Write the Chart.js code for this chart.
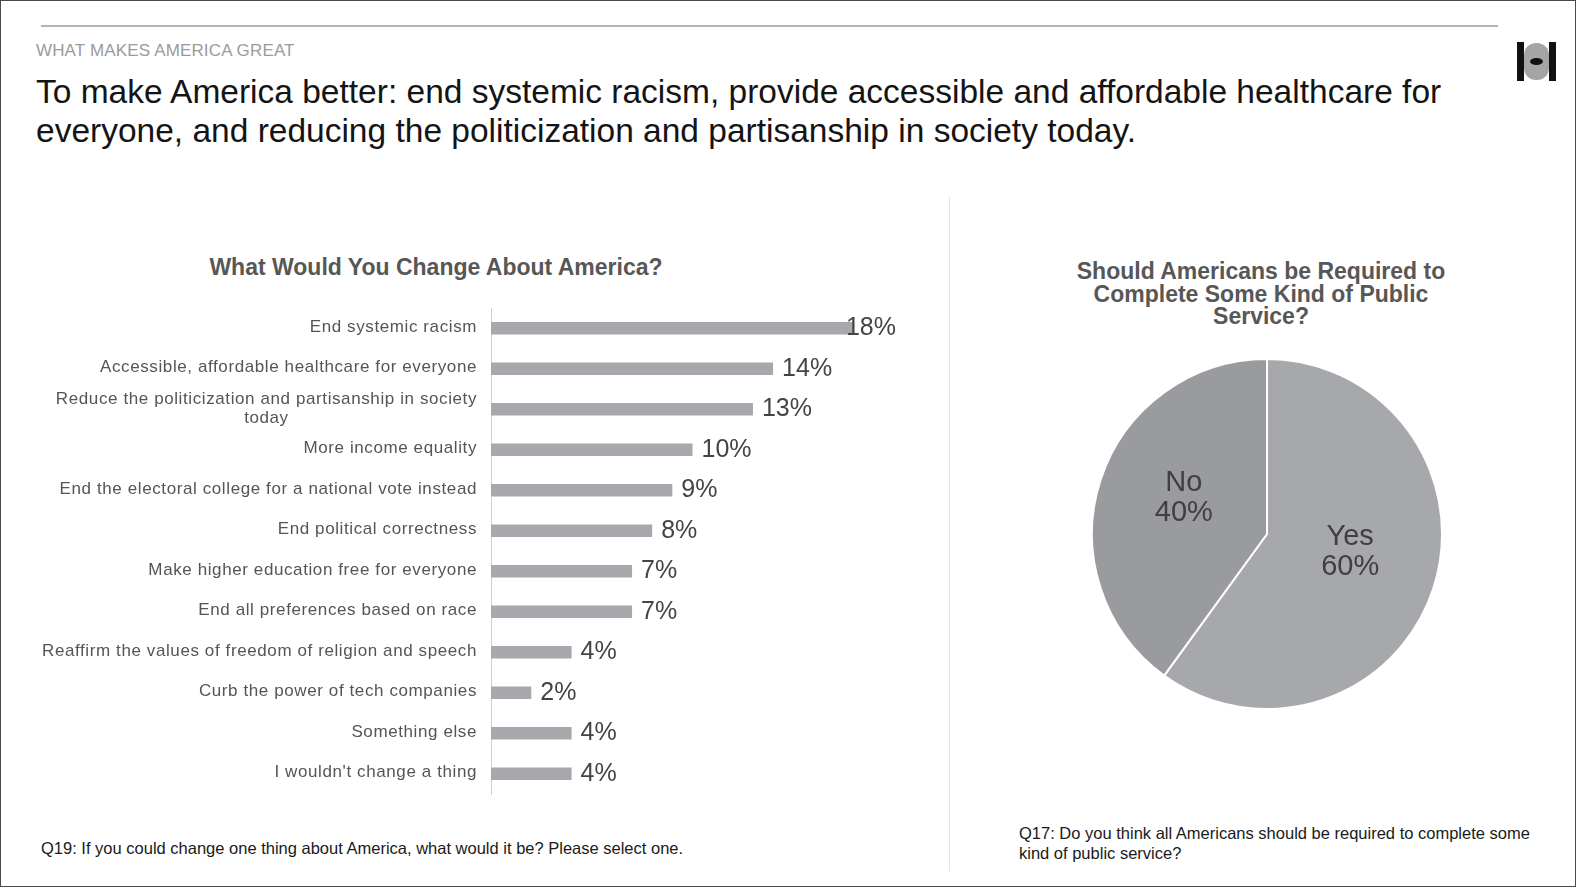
<!DOCTYPE html>
<html>
<head>
<meta charset="utf-8">
<script src="https://cdn.jsdelivr.net/npm/chart.js@4.4.0/dist/chart.umd.min.js"></script>
<style>
  html, body { margin: 0; padding: 0; }
  body {
    width: 1576px; height: 887px; position: relative; overflow: hidden;
    background: #fff; font-family: "Liberation Sans", Arial, sans-serif;
    box-sizing: border-box; border: 1px solid #4a4a4a;
  }
  .abs { position: absolute; }
  #topline { left: 40px; top: 24px; width: 1457px; height: 0; border-top: 2px solid #b5b5b5; }
  #kicker { left: 35px; top: 40px; font-size: 17px; letter-spacing: 0.15px; color: #9b9b9b; }
  #headline { left: 35px; top: 71px; font-size: 33.5px; line-height: 39px; color: #141414; width: 1500px; }
  #divider { left: 948px; top: 196px; width: 0; height: 674px; border-left: 1px solid #e4e4e4; }
  #barTitle { left: 110px; width: 650px; top: 253px; text-align: center; font-weight: bold; font-size: 23px; color: #575757; }
  #pieTitle { left: 1040px; width: 440px; top: 259px; text-align: center; font-weight: bold; font-size: 23px; line-height: 22.5px; color: #575757; }
  #note1 { left: 40px; top: 838px; font-size: 16.5px; color: #1a1a1a; }
  #note2 { left: 1018px; top: 822px; width: 540px; font-size: 16.5px; line-height: 20px; color: #1a1a1a; }
  #logo { left: 1516px; top: 41px; width: 39px; height: 39px; }
  #logo .bar { position: absolute; top: 0; width: 7px; height: 39px; background: #111; }
  #logo .mid { position: absolute; left: 7px; top: 1px; width: 25px; height: 37px; background: #a5a5a5; border-radius: 12px; }
  #logo .eye { position: absolute; left: 13px; top: 16px; width: 13px; height: 7px; background: #111; border-radius: 50%; }
  canvas { position: absolute; }
</style>
</head>
<body>
<div id="topline" class="abs"></div>
<div id="kicker" class="abs">WHAT MAKES AMERICA GREAT</div>
<div id="headline" class="abs">To make America better: end systemic racism, provide accessible and affordable healthcare for<br>everyone, and reducing the politicization and partisanship in society today.</div>
<div id="logo" class="abs"><div class="mid"></div><div class="bar" style="left:0"></div><div class="bar" style="left:32px"></div><div class="eye"></div></div>
<div id="divider" class="abs"></div>
<div id="barTitle" class="abs">What Would You Change About America?</div>
<div id="pieTitle" class="abs">Should Americans be Required to<br>Complete Some Kind of Public<br>Service?</div>
<div id="note1" class="abs">Q19: If you could change one thing about America, what would it be? Please select one.</div>
<div id="note2" class="abs">Q17: Do you think all Americans should be required to complete some kind of public service?</div>

<canvas id="changeChart" width="940" height="500" style="left:0;top:300px;"></canvas>
<canvas id="serviceChart" width="380" height="380" style="left:1076px;top:343px;"></canvas>

<script>
const changeLabels = [
  ['End systemic racism'],
  ['Accessible, affordable healthcare for everyone'],
  ['Reduce the politicization and partisanship in society', 'today'],
  ['More income equality'],
  ['End the electoral college for a national vote instead'],
  ['End political correctness'],
  ['Make higher education free for everyone'],
  ['End all preferences based on race'],
  ['Reaffirm the values of freedom of religion and speech'],
  ['Curb the power of tech companies'],
  ['Something else'],
  ["I wouldn't change a thing"]
];
const changeValues = [18, 14, 13, 10, 9, 8, 7, 7, 4, 2, 4, 4];

const serviceLabels = ['Yes', 'No'];
const serviceValues = [60, 40];

// category labels, drawn so the second line sits centred under the first
const categoryText = {
  id: 'categoryText',
  afterDraw(chart) {
    const ctx = chart.ctx;
    const y = chart.scales.y;
    const right = chart.chartArea.left - 14;
    ctx.save();
    ctx.font = '17px "Liberation Sans", Arial, sans-serif';
    ctx.letterSpacing = '0.6px';
    ctx.fillStyle = '#555';
    ctx.textBaseline = 'middle';
    ctx.textAlign = 'center';
    changeLabels.forEach((lines, i) => {
      const cy = y.getPixelForValue(i);
      const w = Math.max(...lines.map(l => ctx.measureText(l).width));
      const top = cy - (lines.length - 1) * 19 / 2 - (lines.length > 1 ? 0 : 1);
      lines.forEach((l, k) => ctx.fillText(l, right - w / 2, top + k * 19));
    });
    ctx.restore();
  }
};

const valueText = {
  id: 'valueText',
  afterDatasetsDraw(chart) {
    const ctx = chart.ctx;
    const meta = chart.getDatasetMeta(0);
    ctx.save();
    ctx.font = '25px "Liberation Sans", Arial, sans-serif';
    ctx.fillStyle = '#444';
    ctx.textBaseline = 'middle';
    meta.data.forEach((bar, i) => {
      const txt = changeValues[i] + '%';
      const w = ctx.measureText(txt).width;
      const x = Math.min(bar.x + 9, chart.chartArea.right + 2 - w);
      ctx.fillText(txt, x, bar.y);
    });
    ctx.restore();
  }
};

new Chart(document.getElementById('changeChart'), {
  type: 'bar',
  data: {
    labels: changeLabels.map(l => l.join(' ')),
    datasets: [{
      data: changeValues,
      backgroundColor: '#a7a8ab',
      barPercentage: 0.31,
      categoryPercentage: 1
    }]
  },
  options: {
    indexAxis: 'y',
    responsive: false,
    animation: false,
    layout: { padding: { top: 7, bottom: 7, right: 47, left: 0 } },
    plugins: { legend: { display: false }, tooltip: { enabled: false } },
    scales: {
      x: { display: false, min: 0, max: 20 },
      y: {
        grid: { display: false },
        ticks: { display: false },
        border: { color: '#d0d0d0', width: 1 },
        afterFit(scale) { scale.width = 490; }
      }
    }
  },
  plugins: [categoryText, valueText]
});

const sliceText = {
  id: 'sliceText',
  afterDatasetsDraw(chart) {
    const ctx = chart.ctx;
    const meta = chart.getDatasetMeta(0);
    ctx.save();
    ctx.font = '29px "Liberation Sans", Arial, sans-serif';
    ctx.fillStyle = '#404040';
    ctx.textAlign = 'center';
    ctx.textBaseline = 'middle';
    meta.data.forEach((arc, i) => {
      const p = arc.tooltipPosition();
      ctx.fillText(serviceLabels[i], p.x, p.y - 24);
      ctx.fillText(serviceValues[i] + '%', p.x, p.y + 6);
    });
    ctx.restore();
  }
};

new Chart(document.getElementById('serviceChart'), {
  type: 'pie',
  data: {
    labels: serviceLabels,
    datasets: [{
      data: serviceValues,
      backgroundColor: ['#a7a8ab', '#9a9b9e'],
      borderColor: '#ffffff',
      borderWidth: 2
    }]
  },
  options: {
    responsive: false,
    animation: false,
    layout: { padding: 14 },
    plugins: { legend: { display: false }, tooltip: { enabled: false } }
  },
  plugins: [sliceText]
});
</script>
</body>
</html>
